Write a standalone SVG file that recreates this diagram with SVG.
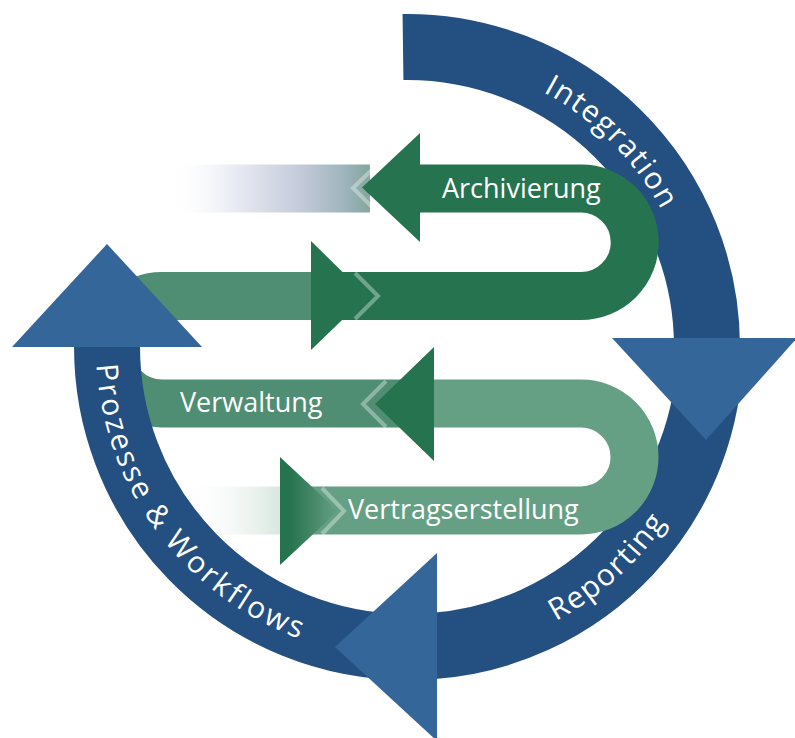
<svg xmlns="http://www.w3.org/2000/svg" width="795" height="738" viewBox="0 0 795 738">
<defs>
<linearGradient id="fadeA" gradientUnits="userSpaceOnUse" x1="170" y1="0" x2="366" y2="0">
<stop offset="0" stop-color="#ffffff" stop-opacity="0"/>
<stop offset="0.3" stop-color="#eceef5"/>
<stop offset="0.65" stop-color="#c6ccdc"/>
<stop offset="0.9" stop-color="#9db3bb"/>
<stop offset="1" stop-color="#86a89f"/>
</linearGradient>
<linearGradient id="fadeD" gradientUnits="userSpaceOnUse" x1="183" y1="0" x2="292" y2="0">
<stop offset="0" stop-color="#ffffff" stop-opacity="0"/>
<stop offset="1" stop-color="#cde1d6"/>
</linearGradient>
<linearGradient id="triD" gradientUnits="userSpaceOnUse" x1="290" y1="0" x2="340" y2="0">
<stop offset="0" stop-color="#26734f"/>
<stop offset="1" stop-color="#6aa287"/>
</linearGradient>
<path id="pInt" d="M 407 58 A 289 289 0 0 1 696 347"/>
<path id="pRep" d="M 409 658 A 311 311 0 0 0 720 347"/>
<path id="pPro" d="M 96 347 A 311 311 0 0 0 407 658"/>
</defs>
<style>
.band{fill:none;stroke-width:48;stroke-linecap:butt}
.ring{fill:none;stroke:#244f81;stroke-width:66;stroke-linecap:butt}
.head{fill:#346699}
.gh{fill:#26734f}
.chev{fill:none;stroke:#ffffff;stroke-opacity:0.35;stroke-width:4}
.lbl{font-family:"Open Sans","Liberation Sans",sans-serif;font-size:27px;fill:#ffffff}
.rt{font-family:"Open Sans","Liberation Sans",sans-serif;font-size:30px;fill:#ffffff;letter-spacing:1.5px}
</style>
<g id="fades">
<rect x="170" y="164.5" width="200" height="48" fill="url(#fadeA)"/>
<rect x="183" y="486.5" width="110" height="48" fill="url(#fadeD)"/>
</g>
<g id="connectors">
<path id="loop-left" class="band" stroke="#4f8e72" d="M 320 296 H 162 A 53.75 53.75 0 0 0 162 403.5 H 420"/>
</g>
<g id="ring">
<path class="ring" d="M 403 47.03 A 300 300 0 0 1 707 347"/>
<path class="ring" d="M 710 347 A 300 300 0 0 1 430 646.3"/>
<path class="ring" d="M 407 647 A 300 300 0 0 1 107.1 341"/>
<polygon class="head" points="612,338 797,338 706,440"/>
<polygon class="head" points="437,553 437,741 335,647"/>
<polygon class="head" points="12,347 202,347 107,244"/>
<text class="rt"><textPath href="#pInt" startOffset="50%" text-anchor="middle">Integration</textPath></text>
<text class="rt"><textPath href="#pRep" startOffset="46.7%" text-anchor="middle">Reporting</textPath></text>
<text class="rt" style="letter-spacing:2.7px"><textPath href="#pPro" startOffset="40.8%" text-anchor="middle">Prozesse &amp; Workflows</textPath></text>
</g>
<g id="flow">
<path id="loop-top" class="band" stroke="#26744f" d="M 410 188.5 H 581 A 53.75 53.75 0 0 1 581 296 H 330"/>
<path id="loop-bottom" class="band" stroke="#66a084" d="M 420 403.5 H 581 A 53.5 53.5 0 0 1 581 510.5 H 300"/>
</g>
<g id="arrow-archivierung">
<polygon class="gh" points="420,133 420,242 362,187.5"/>
<polyline class="chev" points="377,165 353,188 377,212"/>
<text class="lbl" x="442" y="198">Archivierung</text>
</g>
<g id="arrow-b">
<polygon class="gh" points="311,241 311,350 367,296"/>
<polyline class="chev" points="355,273 378,296 355,319"/>
</g>
<g id="arrow-verwaltung">
<polygon class="gh" points="434,347 434,461 375,404"/>
<polyline class="chev" points="386,381 363,404 386,427"/>
<text class="lbl" x="180" y="412">Verwaltung</text>
</g>
<g id="arrow-vertragserstellung">
<polygon fill="url(#triD)" points="280,457 280,565 338,511"/>
<polyline class="chev" points="322,488 344,511 322,534"/>
<text class="lbl" x="348" y="519">Vertragserstellung</text>
</g>
</svg>
